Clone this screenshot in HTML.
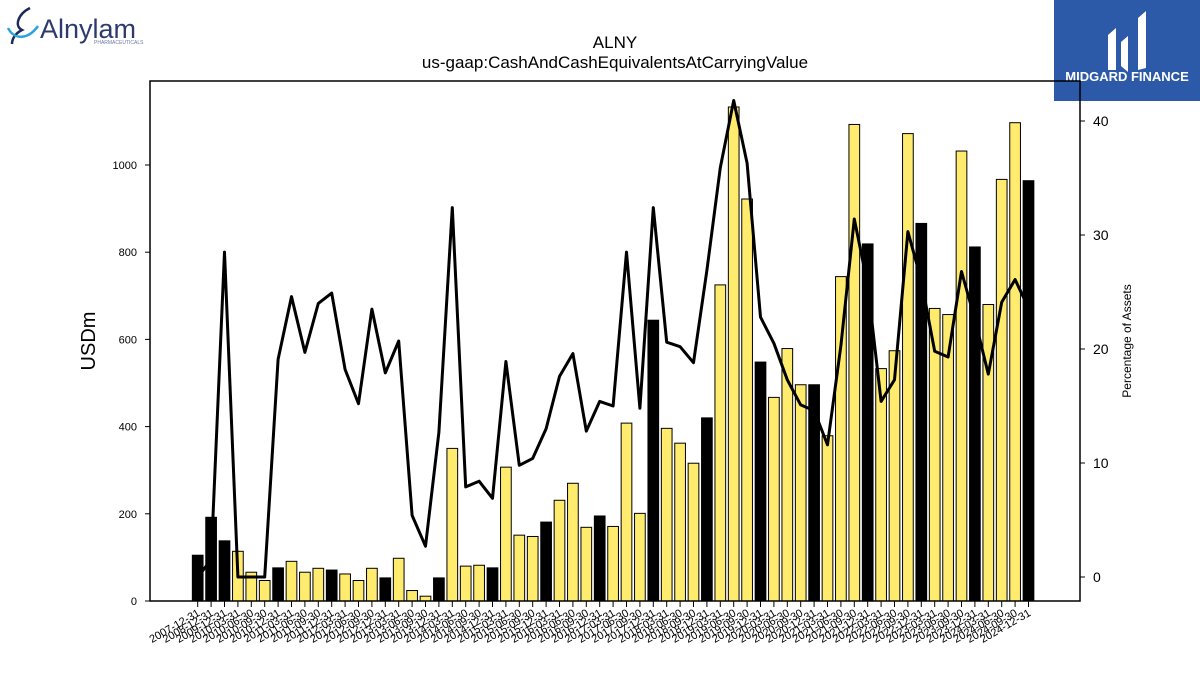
<!DOCTYPE html>
<html><head><meta charset="utf-8"><style>
body{margin:0;background:#fff;width:1200px;height:675px;overflow:hidden;font-family:"Liberation Sans",sans-serif}
</style></head><body>
<svg id="c" width="1200" height="675" xmlns="http://www.w3.org/2000/svg">
<g>
<path d="M30 8 C18 14 14 26 22 30 C14 34 12 40 12 44" stroke="#1d2a5a" stroke-width="2.5" fill="none"/>
<path d="M8 28 C14 40 28 40 38 26" stroke="#2aa3dd" stroke-width="2.5" fill="none"/>
<text x="40" y="38" font-size="27" fill="#2d3a6e">Alnylam</text>
<text x="94" y="44" font-size="5" fill="#6b7aa8">PHARMACEUTICALS</text>
</g>
<g>
<rect x="1054" y="0" width="146" height="101" fill="#2d5aa8"/>
<path d="M1108 35 L1116 28 L1116 70 L1108 70 Z M1121 42 L1128 36 L1128 72 L1121 66 Z M1138 18 L1146 11 L1146 68 L1138 70 Z" fill="#fff"/>
<text x="1127" y="81" font-size="13" font-weight="bold" fill="#fff" text-anchor="middle">MIDGARD FINANCE</text>
</g>
<text x="615" y="48" font-size="17" text-anchor="middle">ALNY</text>
<text x="615" y="68" font-size="17" text-anchor="middle">us-gaap:CashAndCashEquivalentsAtCarryingValue</text>
<text transform="translate(95,341) rotate(-90)" font-size="20" text-anchor="middle">USDm</text>
<text transform="translate(1131,341) rotate(-90)" font-size="12" text-anchor="middle">Percentage of Assets</text>
<g id="bars"></g><g id="line"></g><g id="axes"></g>
</svg>
<script>
const categories=["2007-12-31","2008-12-31","2009-12-31"];
for(let y=2010;y<=2024;y++){for(const q of ["03-31","06-30","09-30","12-31"])categories.push(y+"-"+q);}
const cashValues=[105,192,138,114,66,47,76,91,66,75,71,62,47,75,53,98,24,11,53,350,80,82,76,307,151,148,181,231,270,169,195,171,408,201,644,396,362,316,420,725,1133,922,548,467,579,496,496,379,744,1093,819,533,574,1072,866,671,657,1032,812,680,967,1097,964];
const pctValues=[0,1.5,28.5,0,0,0,19.1,24.6,19.7,24.0,24.9,18.2,15.2,23.5,17.9,20.7,5.4,2.7,12.7,32.4,7.9,8.4,6.9,18.9,9.8,10.4,13.0,17.6,19.6,12.8,15.4,15.0,28.5,14.8,32.4,20.6,20.2,18.8,26.9,35.9,41.8,36.3,22.8,20.5,17.3,15.1,14.6,11.6,20.3,31.4,25.6,15.4,17.3,30.3,26.0,19.8,19.3,26.8,22.6,17.8,24.1,26.1,23.6];
const leftTicks=[0,200,400,600,800,1000];
const rightTicks=[0,10,20,30,40];
const NS="http://www.w3.org/2000/svg";
const L=150,R=1080,T=81,B=601;
const xPos=i=>197.7+i*13.4;
const yL=v=>601-v*0.436;
const yR=v=>577-v*11.4;
function mk(tag,attrs,parent,txt){const e=document.createElementNS(NS,tag);for(const k in attrs)e.setAttribute(k,attrs[k]);if(txt!==undefined)e.textContent=txt;parent.appendChild(e);return e;}
const gb=document.getElementById('bars'),gl=document.getElementById('line'),ga=document.getElementById('axes');
cashValues.forEach((v,i)=>{
 const annual=categories[i].endsWith("12-31");
 const r=mk('rect',{x:xPos(i)-5.35,y:yL(v),width:10.7,height:v*0.436,fill:annual?'#000':'#ffec6e',stroke:'#000','stroke-width':1},gb);
 
 
});
const pts=pctValues.map((p,i)=>xPos(i).toFixed(1)+","+yR(p).toFixed(1)).join(" ");
const pl=mk('polyline',{points:pts,fill:'none',stroke:'#000','stroke-width':3,'stroke-linejoin':'round'},gl);


const fr=mk('rect',{x:L,y:T,width:R-L,height:B-T,fill:'none',stroke:'#000','stroke-width':1.5},ga);


leftTicks.forEach(t=>{
 mk('line',{x1:L-5,x2:L,y1:yL(t),y2:yL(t),stroke:'#000'},ga);
 const tx=mk('text',{x:L-13,y:yL(t)+4,'font-size':11,'text-anchor':'end'},ga,t);
 
 
});
rightTicks.forEach(t=>{
 mk('line',{x1:R,x2:R+5,y1:yR(t),y2:yR(t),stroke:'#000'},ga);
 const tx=mk('text',{x:R+13,y:yR(t)+5,'font-size':14},ga,t);
 
 
});
categories.forEach((c,i)=>{
 const x=xPos(i);
 mk('line',{x1:x,x2:x,y1:B,y2:B+6,stroke:'#000'},ga);
 const tx=mk('text',{transform:`translate(${x+3},${B+14}) rotate(-30)`,'font-size':11,'text-anchor':'end'},ga,c);
 
 
});
</script>
</body></html>
